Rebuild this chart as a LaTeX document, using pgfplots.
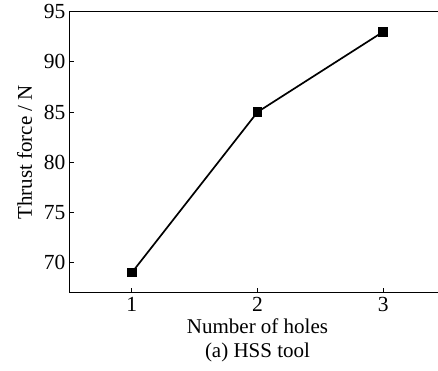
\documentclass[border=0pt]{standalone}
\usepackage{fontspec}
\setmainfont{Liberation Serif}
\usepackage{pgfplots}
\pgfplotsset{compat=1.18}
\begin{document}
\begin{tikzpicture}
\useasboundingbox (-69pt,-77.3pt) rectangle (369pt,292.7pt);
\begin{axis}[
  at={(0,0)}, anchor=south west,
  scale only axis,
  width=377pt, height=281pt,
  xmin=0.5, xmax=3.5,
  ymin=67, ymax=95,
  xtick={1,2,3},
  ytick={70,75,80,85,90,95},
  axis x line*=bottom,
  axis y line*=left,
  axis line style={line width=0.9pt, -},
  tick style={line width=0.9pt, black},
  tick align=inside,
  major tick length=5pt,
  /pgf/number format/assume math mode=true,
  tick label style={font=\fontsize{21.5}{24}\selectfont},
  label style={font=\fontsize{21}{24}\selectfont},
  xticklabel style={yshift=-1pt},
  xlabel={Number of holes\\(a) HSS tool},
  xlabel style={align=center, yshift=0pt},
  ylabel={Thrust force / N},
  ylabel style={yshift=5pt},
]
\draw[line width=0.9pt] (rel axis cs:0,1) -- (rel axis cs:1,1);
\addplot[black, line width=1.7pt, mark=square*, mark size=4pt] coordinates {
  (1,69) (2,85) (3,93)
};
\end{axis}
\end{tikzpicture}
\end{document}
